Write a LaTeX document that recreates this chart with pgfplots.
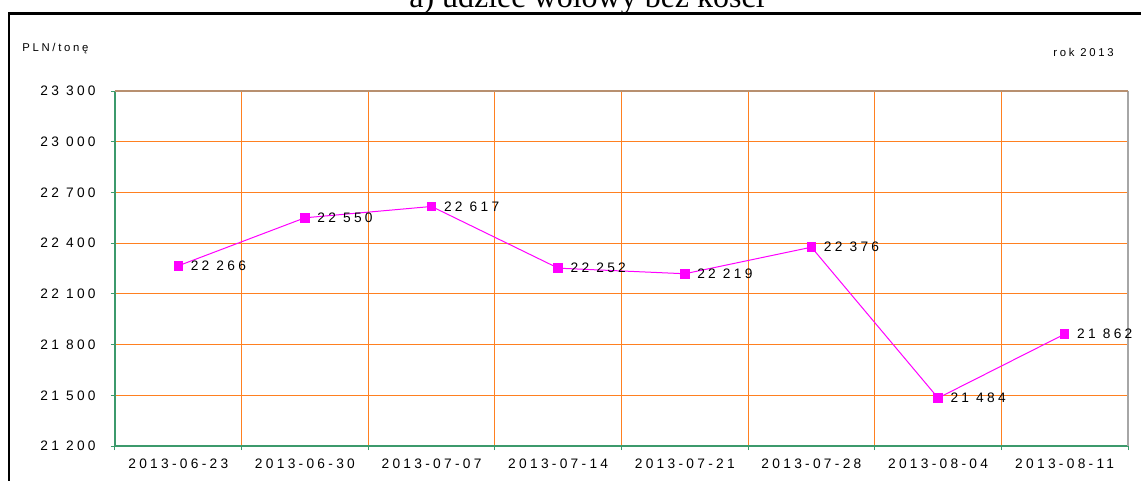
\documentclass[border=0pt]{standalone}
\usepackage{fontspec}
\usepackage{pgfplots}
\pgfplotsset{compat=1.18}
\setmainfont{Liberation Serif}
\newfontfamily\chartfont{Liberation Sans}[LetterSpace=24]
\definecolor{gridOrange}{HTML}{FF8020}
\definecolor{axGreen}{HTML}{3C9A6C}
\definecolor{lineMag}{HTML}{FF00FF}
\definecolor{topBrown}{HTML}{B89070}

\begin{document}
\begin{tikzpicture}
% page = 1141 x 480 px at 0.75pt per px, origin at the plot's lower-left corner
\useasboundingbox (-86.25pt,-25.5pt) rectangle (769.5pt,334.5pt);

% outer frame, partly off the page
\draw[line width=1.6pt] (-79.5pt,-60pt) -- (-79.5pt,324.4pt) -- (820pt,324.4pt);

% title, cut by the top of the page
\node[anchor=base, inner sep=0pt, font=\fontsize{24}{28}\selectfont]
  at (354pt,329.25pt) {a) udziec wołowy bez kości};

\begin{axis}[
  at={(0pt,0pt)}, anchor=south west,
  scale only axis,
  width=759.75pt, height=266.25pt,
  xmin=0.5, xmax=8.5,
  ymin=21200, ymax=23300,
  scaled y ticks=false,
  axis line style={draw=none},
  xtick={1,...,8},
  xticklabels={2013-06-23,2013-06-30,2013-07-07,2013-07-14,
               2013-07-21,2013-07-28,2013-08-04,2013-08-11},
  major x tick style={draw=none},
  minor xtick={0.5,1.5,...,8.5},
  xminorgrids,
  minor x grid style={draw=gridOrange, line width=0.75pt},
  ytick={21200,21500,...,23300},
  yticklabels={21 200,21 500,21 800,22 100,22 400,22 700,23 000,23 300},
  ymajorgrids,
  major y grid style={draw=gridOrange, line width=0.75pt},
  tick align=outside, tick pos=left,
  major tick length=3pt, minor tick length=3pt,
  every tick/.style={draw=axGreen, line width=0.75pt},
  ticklabel style={font=\chartfont\fontsize{10.3}{12}\selectfont},
  xticklabel style={yshift=-3pt},
  yticklabel style={xshift=-8pt},
  clip=false,
]
\addplot[lineMag, line width=0.75pt, mark=square*, mark size=3.2pt,
  mark options={fill=lineMag, draw=lineMag},
  point meta=explicit symbolic,
  nodes near coords,
  nodes near coords style={anchor=west, inner sep=0pt, xshift=9pt, text=black,
    font=\chartfont\fontsize{10.3}{12}\selectfont},
] table[x=x, y=y, meta=lab, col sep=comma] {
x,y,lab
1,22266,22 266
2,22550,22 550
3,22617,22 617
4,22252,22 252
5,22219,22 219
6,22376,22 376
7,21484,21 484
8,21862,21 862
};

% plot-area border: green left and bottom, grey right, brownish top
\draw[axGreen, line width=0.9pt] (rel axis cs:0,1) -- (rel axis cs:0,0) -- (rel axis cs:1,0);
\draw[gray!70, line width=0.9pt] (rel axis cs:1,0) -- (rel axis cs:1,1);
\draw[topBrown, line width=0.9pt] (rel axis cs:0,1) -- (rel axis cs:1,1);
\end{axis}

\node[anchor=west, inner sep=0pt, font=\chartfont\fontsize{8.5}{10}\selectfont]
  at (-69.75pt,298pt) {PLN/tonę};
\node[anchor=east, inner sep=0pt, font=\chartfont\fontsize{8.5}{10}\selectfont]
  at (749.25pt,295.5pt) {rok 2013};
\end{tikzpicture}
\end{document}
